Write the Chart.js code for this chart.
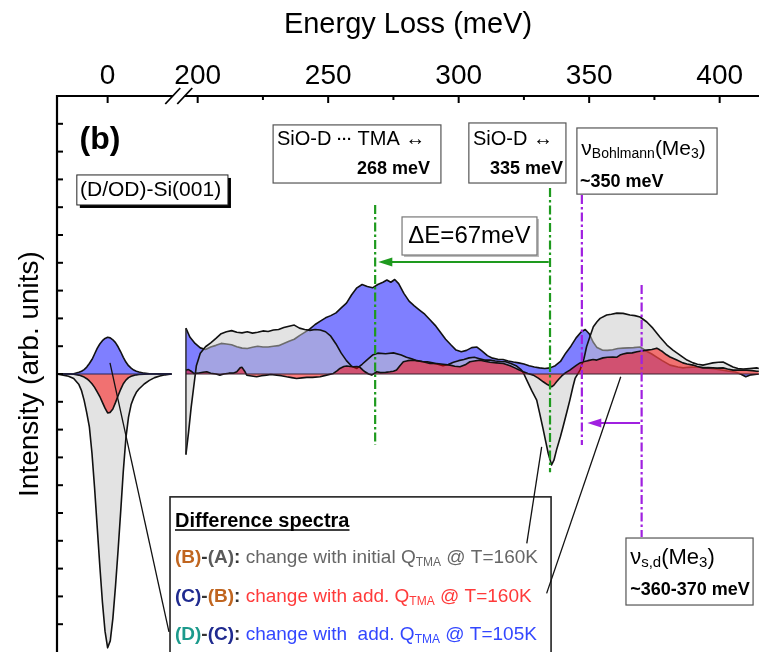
<!DOCTYPE html>
<html><head><meta charset="utf-8">
<script src="https://cdn.jsdelivr.net/npm/chart.js@4/dist/chart.umd.min.js"></script>
<style>html,body{margin:0;padding:0;background:#fff}#wrap{width:759px;height:652px;position:relative}</style>
</head><body><div id="wrap"><canvas id="c"></canvas></div>
<script>
const FONT = '"Liberation Sans", Arial, Helvetica, sans-serif';

// ---------- axis break (meV) ----------
const SEG1_END = 24.5, SEG2_START = 195.5, BREAK_SHIFT = 165.5;
function toU(E){ return E < 100 ? E : E - BREAK_SHIFT; }

// ---------- ticks ----------
const xMajorTicks = [0, 200, 250, 300, 350, 400];
const xMinorTicks = [225, 275, 325, 375];
const yTicks = [-9,-8,-7,-6,-5,-4,-3,-2,-1,0,1,2,3,4,5,6,7,8,9];

// ---------- segment 1 (elastic region) ----------
const seg1E    = [-19,-17,-15,-13,-11,-10,-9,-8,-7,-6,-5,-4,-3,-2,-1,0,1,2,3,4,5,6,7,8,9,10,11,12,14,16,18,20,22,24.5];
const blueSeg1 = [0,0,0,0.01,0.06,0.1,0.16,0.25,0.38,0.52,0.72,0.92,1.08,1.2,1.28,1.32,1.3,1.23,1.13,0.98,0.8,0.6,0.43,0.3,0.21,0.14,0.1,0.07,0.03,0.01,0,0,0,0];
const redSeg1  = [0,0,0,-0.01,-0.04,-0.07,-0.11,-0.17,-0.25,-0.35,-0.48,-0.64,-0.81,-1.02,-1.23,-1.4,-1.38,-1.26,-1.03,-0.78,-0.55,-0.35,-0.22,-0.13,-0.08,-0.05,-0.03,-0.02,-0.01,0,0,0,0,0];
const greySeg1 = [-0.01,-0.04,-0.08,-0.16,-0.38,-0.6,-0.95,-1.4,-1.9,-2.85,-4.1,-5.5,-6.9,-8.2,-9.25,-9.85,-9.6,-8.8,-7.65,-6.35,-4.95,-3.5,-2.3,-1.55,-1.1,-0.85,-0.66,-0.54,-0.36,-0.23,-0.13,-0.07,-0.03,0];

// ---------- segment 2: (D)-(C) blue ----------
const blueSeg2E = [195.5,197,199,201,203,205,207,209,211,213,215,217,219,221,223,225,227,229,231,233,235,237,239,241,243,245,247,249,251,253,255,257,259,261,263,265,267,269,271,272.5,274,275.5,277,279,281,283,285,287,289,291,293,295,297,299,301,303,305,307,309,311,313,315,317,319,321,323,325,327,329,331,333,335,337,339,341,343,345,347,348.5,350,351.5,353,355,357,359,361,363,365,367,369.5,372,374,376,378,381,384,386,388,391,393,395,398,400,403,406,408,410,412,415];
const blueSeg2  = [1.65,1.33,1.1,0.94,0.88,0.97,1.03,1.1,1.08,1.05,0.98,0.93,0.92,0.96,1.0,0.97,0.97,1.0,1.02,1.1,1.18,1.25,1.38,1.5,1.62,1.78,1.9,2.02,2.1,2.2,2.38,2.55,2.85,3.1,3.22,3.15,3.1,3.22,3.3,3.38,3.3,3.4,3.25,2.9,2.62,2.45,2.3,2.15,1.95,1.75,1.5,1.25,1.05,0.86,0.8,0.85,0.95,0.97,0.82,0.66,0.57,0.53,0.52,0.47,0.43,0.4,0.36,0.3,0.25,0.22,0.2,0.22,0.3,0.45,0.75,1.0,1.3,1.52,1.6,1.45,1.15,0.95,0.86,0.85,0.87,0.92,0.93,0.94,0.95,0.97,0.82,0.72,0.6,0.48,0.32,0.25,0.22,0.24,0.25,0.24,0.22,0.18,0.15,0.11,0.07,0.0,-0.1,-0.03,0.0];

// ---------- segment 2: (B)-(A) grey ----------
const greySeg2E = [195.5,196.5,197.5,198.5,199.5,201,203,205,207,209,211,213,215,217,219,221,223,225,227,229,231,233,235,237,239,241,243,245,247,249,251,253,255,257,259,261,263,265,267,269,272,275,278,280,282,284,286,288,290,292,294,296,298,300,302,304,306,308,310,312,314,316,318,320,322,324,325,326.5,328,329.9,331,332.4,333.4,334.3,335.6,336.5,337.5,339,340,341.5,342.6,343.8,344.6,346.5,348,349,350.5,351.6,353,354.2,356.7,358.5,360.6,363,365.6,367.5,369.5,372.1,374.4,377.1,379.8,382.1,384.8,387.5,389.8,391.5,393.6,395.5,397.4,399.5,401.3,403,405.1,407,409,411.5,414.2,415];
const greySeg2  = [-2.9,-2.1,-1.2,-0.45,0.3,0.75,0.98,1.12,1.28,1.45,1.52,1.56,1.5,1.48,1.52,1.47,1.5,1.55,1.53,1.58,1.6,1.67,1.72,1.76,1.65,1.6,1.57,1.6,1.58,1.52,1.36,1.08,0.75,0.48,0.28,0.2,0.35,0.52,0.68,0.75,0.73,0.76,0.68,0.6,0.55,0.48,0.45,0.44,0.4,0.35,0.3,0.34,0.42,0.48,0.52,0.58,0.6,0.55,0.5,0.5,0.47,0.45,0.44,0.38,0.3,0.15,0.0,-0.3,-0.6,-0.94,-1.4,-2.0,-2.45,-2.85,-3.27,-3.1,-2.73,-2.25,-1.9,-1.35,-0.94,-0.45,-0.16,0.14,0.55,0.98,1.4,1.7,1.88,2.0,2.12,2.15,2.19,2.18,2.12,2.1,2.05,1.87,1.65,1.33,1.04,0.86,0.68,0.5,0.4,0.35,0.32,0.36,0.4,0.42,0.43,0.35,0.25,0.2,0.18,0.2,0.22,0.2];

// ---------- segment 2: (C)-(B) red ----------
const redSeg2E = [195.5,196.5,197.5,198.5,200,202,203.5,205,207,208.5,210,212,213.6,215,216.2,217,218,218.8,220,222.6,224.5,226.4,228,230.3,232,234.1,236,237.9,240,241.8,244,246.9,249,252,253.5,254.5,256,257.1,258.5,259.6,261,262.2,263.2,264.1,265.5,266.7,268.6,270,272,273.7,275,276.2,277.5,278.8,280.5,282.6,284.5,286.4,289,291.6,294,296.7,298.5,300.5,302.5,304.3,306,308.2,310,312,314.5,317.1,319.7,321.5,323,324.8,326.5,328.6,330.5,332.4,334,335.6,336.5,337.5,338.5,339.5,341,342.6,344,345.2,346.5,347.7,349.5,351.5,352.9,355.3,357,359.1,360.5,361.8,363,364.5,366.5,368.3,370,372.1,374,375.9,377,378.2,379.5,381,383.6,385.9,387.5,389.8,391.5,393.6,395.5,397.4,399,401.3,403,405.1,408,410.4,412.5,414.2,415];
const redSeg2  = [0.14,0.16,0.1,0.02,0.03,0.06,0.08,0.03,0.0,-0.04,0.0,0.03,0.03,0.08,0.22,0.24,0.1,-0.04,-0.06,-0.1,-0.06,-0.04,-0.02,-0.04,-0.06,-0.1,-0.13,-0.16,-0.14,-0.12,-0.12,-0.1,-0.05,0.02,0.12,0.2,0.27,0.29,0.27,0.26,0.27,0.24,0.15,0.08,0.0,-0.04,0.08,0.05,0.06,0.08,0.1,0.14,0.3,0.44,0.48,0.5,0.47,0.44,0.38,0.38,0.35,0.32,0.28,0.26,0.33,0.44,0.47,0.5,0.46,0.42,0.4,0.38,0.3,0.22,0.15,0.08,0.02,-0.04,-0.15,-0.28,-0.38,-0.46,-0.4,-0.28,-0.17,-0.07,0.05,0.14,0.24,0.32,0.4,0.44,0.48,0.52,0.5,0.58,0.6,0.61,0.6,0.68,0.72,0.75,0.76,0.8,0.83,0.86,0.88,0.93,0.87,0.8,0.7,0.61,0.5,0.4,0.36,0.32,0.27,0.22,0.23,0.22,0.21,0.22,0.18,0.14,0.14,0.14,0.12,0.1,0.1];

// ---------- styles ----------
const BLUE_FILL = 'rgba(0,0,255,0.5)';
const GREY_FILL = 'rgba(200,200,200,0.5)';
const RED_FILL  = 'rgba(255,0,0,0.5)';
const LINE_COLOR = '#111';

function pts(E, V){ const n = Math.min(E.length, V.length); const out=[]; for(let i=0;i<n;i++) out.push({x:toU(E[i]), y:V[i]}); return out; }
function ds(data, fill, order){ return {data, backgroundColor:fill, borderColor:LINE_COLOR, borderWidth:1.6, fill:'origin', order, pointRadius:0, tension:0, borderJoinStyle:'round'}; }

const datasets = [
  ds(pts(seg1E, redSeg1), RED_FILL, 0),
  ds(pts(redSeg2E, redSeg2), RED_FILL, 0),
  ds(pts(seg1E, greySeg1), GREY_FILL, 1),
  ds(pts(greySeg2E, greySeg2), GREY_FILL, 1),
  ds(pts(seg1E, blueSeg1), BLUE_FILL, 2),
  ds(pts(blueSeg2E, blueSeg2), BLUE_FILL, 2),
];

// ---------- annotations (data coordinates: E in meV, v in intensity units) ----------
const F = (s,b) => (b?'bold ':'') + s + 'px ' + FONT;
const boxes = [
  {x1:-11.8, x2:211.6, y1:7.16, y2:6.08, border:'#222', lw:1, shadow:'#000', sh:3},
  {x1:228.9, x2:293.2, y1:8.96, y2:6.87, border:'#555', lw:1.2},
  {x1:303.9, x2:341.1, y1:9.03, y2:6.87, border:'#555', lw:1.2},
  {x1:345.3, x2:399.0, y1:8.85, y2:6.47, border:'#555', lw:1.2},
  {x1:278.3, x2:330.0, y1:5.65, y2:4.28, border:'#777', lw:1.2, shadow:'#bbb', sh:2},
  {x1:364.1, x2:412.8, y1:-5.9, y2:-8.31, border:'#555', lw:1.2},
  {x1:23.9,  x2:335.4, y1:-4.42, y2:-10.8, border:'#222', lw:1.6},
];
const ORANGE='#c0651f', NAVY='#1f2a8f', TEAL='#1c9a8c', DARK='#333';
const GREYT='#666', REDT='#ff3a3a', BLUET='#3347ff';
const texts = [
  {E:-2.95, v:8.42, align:'center', runs:[{t:'(b)', f:F(32,true)}]},
  {E:-10.6, v:6.62, align:'left', runs:[{t:'(D/OD)-Si(001)', f:F(21)}]},
  {E:230.4, v:8.42, align:'left', runs:[{t:'SiO-D ', f:F(20)},{t:'\u00B7\u00B7\u00B7', f:F(15,true)},{t:' TMA \u2194', f:F(20)}]},
  {E:289.0, v:7.37, align:'right', runs:[{t:'268 meV', f:F(18,true)}]},
  {E:305.5, v:8.42, align:'left', runs:[{t:'SiO-D \u2194', f:F(20)}]},
  {E:340.0, v:7.36, align:'right', runs:[{t:'335 meV', f:F(18,true)}]},
  {E:347.0, v:8.09, align:'left', runs:[{t:'\u03BD',f:F(21)},{t:'Bohlmann',f:F(14),dy:5},{t:'(Me',f:F(21)},{t:'3',f:F(14),dy:5},{t:')',f:F(21)}]},
  {E:346.5, v:6.92, align:'left', runs:[{t:'~350 meV', f:F(18,true)}]},
  {E:304.1, v:4.96, align:'center', runs:[{t:'\u0394E=67meV', f:F(24)}]},
  {E:365.7, v:-6.62, align:'left', runs:[{t:'\u03BD',f:F(22)},{t:'s,d',f:F(15),dy:5},{t:'(Me',f:F(22)},{t:'3',f:F(15),dy:5},{t:')',f:F(22)}]},
  {E:365.7, v:-7.77, align:'left', runs:[{t:'~360-370 meV', f:F(18,true)}]},
  {E:25.8, v:-5.29, align:'left', underline:true, runs:[{t:'Difference spectra', f:F(20,true)}]},
  {E:25.8, v:-6.62, align:'left', runs:[{t:'(B)',f:F(19,true),c:ORANGE},{t:'-',f:F(19,true),c:DARK},{t:'(A)',f:F(19,true),c:'#5a5a5a'},{t:':',f:F(19,true),c:DARK},{t:' change with initial Q',f:F(19),c:GREYT},{t:'TMA',f:F(12),c:GREYT,dy:5},{t:' @ T=160K',f:F(19),c:GREYT}]},
  {E:25.8, v:-8.02, align:'left', runs:[{t:'(C)',f:F(19,true),c:NAVY},{t:'-',f:F(19,true),c:DARK},{t:'(B)',f:F(19,true),c:ORANGE},{t:':',f:F(19,true),c:DARK},{t:' change with add. Q',f:F(19),c:REDT},{t:'TMA',f:F(12),c:REDT,dy:5},{t:' @ T=160K',f:F(19),c:REDT}]},
  {E:25.8, v:-9.39, align:'left', runs:[{t:'(D)',f:F(19,true),c:TEAL},{t:'-',f:F(19,true),c:DARK},{t:'(C)',f:F(19,true),c:NAVY},{t:':',f:F(19,true),c:DARK},{t:' change with  add. Q',f:F(19),c:BLUET},{t:'TMA',f:F(12),c:BLUET,dy:5},{t:' @ T=105K',f:F(19),c:BLUET}]},
];
const GREEN='#1e9a1e', PURPLE='#a020e0';
const vlines = [
  {E:268.0, v1:6.08, v2:-2.55, c:GREEN},
  {E:335.0, v1:6.69, v2:-3.53, c:GREEN},
  {E:347.2, v1:6.44, v2:-2.55, c:PURPLE},
  {E:370.1, v1:3.2,  v2:-5.86, c:PURPLE},
];
const arrows = [
  {E1:334.5, E2:269.2, v:4.03, c:GREEN},
  {E1:369.5, E2:349.3, v:-1.76, c:PURPLE},
];
const leaders = [
  {E1:0.9,   v1:0.4,   E2:23.5,  v2:-9.28},
  {E1:326.1, v1:-6.09, E2:331.8, v2:-2.62},
  {E1:333.7, v1:-7.89, E2:362.1, v2:-0.1},
];

function drawRuns(ctx, runs, x, y, align){
  let w = 0;
  runs.forEach(r => { ctx.font = r.f; r.w = ctx.measureText(r.t).width; w += r.w; });
  let cx = align === 'right' ? x - w : align === 'center' ? x - w/2 : x;
  const x0 = cx;
  ctx.textBaseline = 'middle'; ctx.textAlign = 'left';
  runs.forEach(r => { ctx.font = r.f; ctx.fillStyle = r.c || '#000'; ctx.fillText(r.t, cx, y + (r.dy||0)); cx += r.w; });
  return {x0, w};
}

const decor = {
  id: 'decor',
  afterDatasetsDraw(chart){
    const {ctx, scales:{x, y}} = chart;
    const X = E => x.getPixelForValue(toU(E)), Y = v => y.getPixelForValue(v);
    ctx.save();
    ctx.lineWidth = 1.2;
    ctx.strokeStyle = '#23235a';
    ctx.beginPath(); ctx.moveTo(X(seg1E[0]), Y(0)); ctx.lineTo(X(SEG1_END), Y(0)); ctx.stroke();
    ctx.strokeStyle = '#3a2030';
    ctx.beginPath(); ctx.moveTo(X(SEG2_START), Y(0)); ctx.lineTo(X(415), Y(0)); ctx.stroke();
    // left edge of segment 2 fills
    const firsts = [blueSeg2[0], greySeg2[0], redSeg2[0]];
    ctx.strokeStyle = '#222'; ctx.lineWidth = 1.4;
    ctx.beginPath(); ctx.moveTo(X(SEG2_START), Y(Math.max(...firsts))); ctx.lineTo(X(SEG2_START), Y(Math.min(...firsts))); ctx.stroke();
    ctx.restore();
  },
  afterDraw(chart){
    const {ctx, chartArea:a, scales:{x, y}} = chart;
    const X = E => x.getPixelForValue(toU(E)), Y = v => y.getPixelForValue(v);
    ctx.save();
    // axis lines
    ctx.strokeStyle = '#000'; ctx.lineWidth = 2.2; ctx.lineCap = 'butt';
    ctx.beginPath(); ctx.moveTo(a.left, a.bottom); ctx.lineTo(a.left, a.top); ctx.lineTo(a.right, a.top); ctx.stroke();
    // inward ticks
    ctx.lineWidth = 2;
    xMajorTicks.forEach(E => { const px = X(E); ctx.beginPath(); ctx.moveTo(px, a.top); ctx.lineTo(px, a.top + 7); ctx.stroke(); });
    xMinorTicks.forEach(E => { const px = X(E); ctx.beginPath(); ctx.moveTo(px, a.top); ctx.lineTo(px, a.top + 4); ctx.stroke(); });
    yTicks.forEach(v => { const py = Y(v); ctx.beginPath(); ctx.moveTo(a.left, py); ctx.lineTo(a.left + 6, py); ctx.stroke(); });
    // axis break marks
    const bu = (toU(SEG1_END) + toU(SEG2_START)) / 2;
    const bx = x.getPixelForValue(bu);
    ctx.fillStyle = '#fff';
    ctx.beginPath(); ctx.moveTo(bx-13, a.top+8); ctx.lineTo(bx+2, a.top-8); ctx.lineTo(bx+13, a.top-8); ctx.lineTo(bx-2, a.top+8); ctx.closePath(); ctx.fill();
    ctx.lineWidth = 1.8;
    [-6, 6].forEach(d => { ctx.beginPath(); ctx.moveTo(bx + d - 7.5, a.top + 8); ctx.lineTo(bx + d + 7.5, a.top - 8); ctx.stroke(); });

    // vertical dash-dot lines
    vlines.forEach(l => {
      ctx.save(); ctx.strokeStyle = l.c; ctx.lineWidth = 2.2; ctx.setLineDash([9,3,2.5,3]);
      ctx.beginPath(); ctx.moveTo(X(l.E), Y(l.v1)); ctx.lineTo(X(l.E), Y(l.v2)); ctx.stroke(); ctx.restore();
    });
    // arrows
    arrows.forEach(r => {
      const x1 = X(r.E1), x2 = X(r.E2), py = Y(r.v);
      ctx.save(); ctx.strokeStyle = r.c; ctx.fillStyle = r.c; ctx.lineWidth = 2;
      ctx.beginPath(); ctx.moveTo(x1, py); ctx.lineTo(x2 + 10, py); ctx.stroke();
      ctx.beginPath(); ctx.moveTo(x2, py); ctx.lineTo(x2 + 14, py - 4.5); ctx.lineTo(x2 + 14, py + 4.5); ctx.closePath(); ctx.fill();
      ctx.restore();
    });
    // boxes
    boxes.forEach(b => {
      const l = X(b.x1), r = X(b.x2), t = Y(b.y1), btm = Y(b.y2);
      if (b.shadow) { ctx.fillStyle = b.shadow; ctx.fillRect(l + b.sh, t + b.sh, r - l, btm - t); }
      ctx.fillStyle = '#fff'; ctx.fillRect(l, t, r - l, btm - t);
      ctx.strokeStyle = b.border; ctx.lineWidth = b.lw; ctx.strokeRect(l, t, r - l, btm - t);
    });
    // texts
    texts.forEach(tx => {
      const res = drawRuns(ctx, tx.runs, X(tx.E), Y(tx.v), tx.align);
      if (tx.underline) { ctx.strokeStyle = '#000'; ctx.lineWidth = 1.5; ctx.beginPath(); ctx.moveTo(res.x0, Y(tx.v) + 9); ctx.lineTo(res.x0 + res.w, Y(tx.v) + 9); ctx.stroke(); }
    });
    // leader lines
    ctx.strokeStyle = '#111'; ctx.lineWidth = 1.3;
    leaders.forEach(l => { ctx.beginPath(); ctx.moveTo(X(l.E1), Y(l.v1)); ctx.lineTo(X(l.E2), Y(l.v2)); ctx.stroke(); });
    ctx.restore();
  }
};

new Chart(document.getElementById('c'), {
  type: 'line',
  data: { datasets },
  options: {
    responsive: true, maintainAspectRatio: false, animation: false, devicePixelRatio: 1,
    layout: { padding: 0 },
    plugins: { legend: { display: false }, tooltip: { enabled: false } },
    scales: {
      x: {
        type: 'linear', position: 'top', min: -19.4, max: 249.57,
        afterFit: s => { s.height = 96; },
        afterBuildTicks: s => { s.ticks = xMajorTicks.concat(xMinorTicks).map(E => ({value: toU(E)})); },
        grid: { display: false, drawTicks: false }, border: { display: false },
        ticks: { autoSkip: false, maxRotation: 0, padding: 3, color: '#000', font: { family: FONT, size: 28 },
          callback: v => { const E = xMajorTicks.find(e => Math.abs(toU(e) - v) < 1e-6); return E === undefined ? '' : String(E); } },
        title: { display: true, text: 'Energy Loss (meV)', color: '#000', font: { family: FONT, size: 29 }, padding: { top: 8, bottom: 0 } }
      },
      y: {
        type: 'linear', position: 'left', min: -10, max: 10,
        afterFit: s => { s.width = 57; },
        grid: { display: false, drawTicks: false }, border: { display: false },
        ticks: { display: false },
        title: { display: true, text: 'Intensity (arb. units)', color: '#000', font: { family: FONT, size: 28 }, padding: { top: 13, bottom: 0 } }
      }
    }
  },
  plugins: [decor]
});
</script>
</body></html>
